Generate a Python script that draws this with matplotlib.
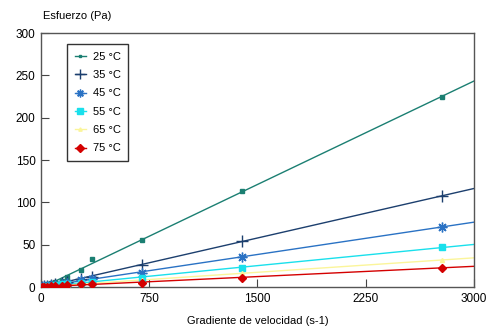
import numpy as np
import matplotlib
matplotlib.use("Agg")
import matplotlib.pyplot as plt

plt.rcParams['font.family'] = ['Liberation Sans', 'DejaVu Sans']

# -----------------------------
# Data
# -----------------------------
shear = [10, 20, 40, 70, 100, 145, 180, 280, 350, 700, 1390, 2780]
labels = ["25 °C", "35 °C", "45 °C", "55 °C", "65 °C", "75 °C"]
s25 = [1, 1.5, 3, 4.5, 6, 7, 12, 20, 33, 55, 113, 225]
s35 = [0.5, 1, 1.5, 2.5, 3.5, 5, 6, 9.5, 12, 26, 54, 108]
s45 = [0.3, 0.8, 1.2, 2, 2.8, 4, 5, 8, 9, 17, 36, 71]
s55 = [0.2, 0.5, 1, 1.5, 2, 3, 3.5, 5, 6, 11, 23, 47]
s65 = [0.2, 0.4, 0.7, 1, 1.5, 2, 2.5, 4, 4.5, 8, 16, 32]
s75 = [0.1, 0.3, 0.5, 0.8, 1, 1.5, 2, 3, 3, 5, 11, 23]
series = [s25, s35, s45, s55, s65, s75]

colors = ["#1b7f72", "#1c3f6e", "#2a72c4", "#19e0ec", "#fbf59a", "#d40000"]
markers = ["s", "+", (8, 2, 0), "s", "^", "D"]
msizes = [2.5, 9, 7, 5, 3, 4.5]

xticks = [0, 750, 1500, 2250, 3000]
yticks = [0, 50, 100, 150, 200, 250, 300]

# -----------------------------
# Plot
# -----------------------------
fig = plt.figure(figsize=(4.95, 3.27), dpi=100)
ax = fig.add_axes([0.0828, 0.1223, 0.8748, 0.7767])

xs = np.array(shear, dtype=float)
xfit = np.array([0, 3000])
for ys, lab, c, m, ms in zip(series, labels, colors, markers, msizes):
    k, b = np.polyfit(xs, np.array(ys, dtype=float), 1)
    ax.plot(xfit, k * xfit + b, color=c, lw=1.0, zorder=2)
    ax.plot(xs, ys, linestyle="none", marker=m, color=c, markersize=ms,
            markeredgewidth=1.0, zorder=3)
    ax.plot([], [], color=c, lw=1.0, marker=m, markersize=ms * 0.8, label=lab)

ax.set_xlim(0, 3000)
ax.set_ylim(0, 300)
ax.set_xticks(xticks)
ax.set_yticks(yticks)
ax.tick_params(direction="in", length=6, width=0.8, labelsize=8.5,
               color="#444444", pad=4)
for sp in ax.spines.values():
    sp.set_color("#555555")
    sp.set_linewidth(1.0)

fig.text(43 / 495, 1 - 16 / 327, "Esfuerzo (Pa)", fontsize=8, va="center", ha="left")
ax.set_xlabel("Gradiente de velocidad (s-1)", fontsize=8, labelpad=8)

leg = ax.legend(loc="upper left", bbox_to_anchor=(0.06, 0.957), fontsize=8,
                frameon=True, fancybox=False, handlelength=1.0,
                handletextpad=0.6, borderpad=0.7, labelspacing=0.75,
                borderaxespad=0)
leg.get_frame().set_edgecolor("black")
leg.get_frame().set_linewidth(1.0)

fig.savefig("out.png", dpi=100)
